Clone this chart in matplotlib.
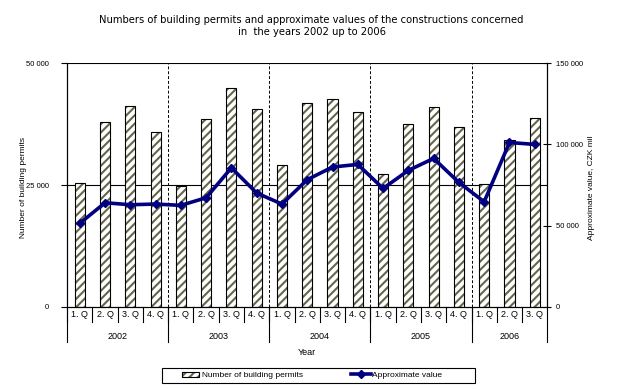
import matplotlib
matplotlib.use('Agg')
import matplotlib.pyplot as plt
from matplotlib.ticker import FuncFormatter
from matplotlib.legend_handler import HandlerTuple
from matplotlib.patches import Rectangle

plt.rcParams['font.family'] = ['Liberation Sans', 'DejaVu Sans']
plt.rcParams['hatch.linewidth'] = 1.5

# data
quarters = ['1. Q', '2. Q', '3. Q', '4. Q'] * 4 + ['1. Q', '2. Q', '3. Q']
years = ['2002', '2003', '2004', '2005', '2006']
year_counts = [4, 4, 4, 4, 3]
permits = [25400, 37950, 41200, 35900,
           24850, 38500, 44900, 40550,
           29100, 41850, 42600, 40000,
           27250, 37500, 41000, 36900,
           25200, 34300, 38750]
values = [51400, 64100, 62900, 63300,
          62500, 67200, 85600, 70100,
          63300, 78300, 86100, 87700,
          72900, 84000, 91400, 76600,
          64700, 101200, 100000]

x = list(range(len(permits)))
olive = '#66664a'
navy = '#000080'

fig = plt.figure(figsize=(6.27, 3.9), dpi=100)
ax = fig.add_axes([0.107, 0.213, 0.766, 0.625])
ax2 = ax.twinx()

# hatch layer in olive, then black outline on top
hatch_bars = ax.bar(x, permits, width=0.40, color='white', edgecolor=olive,
                    linewidth=0, hatch='////', zorder=2)
edge_bars = ax.bar(x, permits, width=0.40, fill=False, edgecolor='black',
                   linewidth=0.8, zorder=2)
line, = ax2.plot(x, values, color=navy, linewidth=2.6, marker='D', markersize=4.5, zorder=3)

ax.set_xlim(-0.5, len(permits) - 0.5)
ax.set_ylim(0, 50000)
ax2.set_ylim(0, 150000)
ax.set_yticks([0, 25000, 50000])
ax2.set_yticks([0, 50000, 100000, 150000])
fmt = FuncFormatter(lambda v, p: f'{int(v):,}'.replace(',', ' '))
ax.yaxis.set_major_formatter(fmt)
ax2.yaxis.set_major_formatter(fmt)
ax.tick_params(axis='y', labelsize=5.5, length=4, width=0.8, direction='out', pad=9)
ax2.tick_params(axis='y', labelsize=5.5, length=6, width=0.8, direction='inout', pad=3)

# gridlines at 25 000 and 50 000
for g in [25000, 50000]:
    ax.axhline(g, color='black', linewidth=0.8, zorder=1)

# dashed year separators inside the plot
start = 0
for c in year_counts[:-1]:
    start += c
    ax.axvline(start - 0.5, color='black', linestyle=(0, (3, 2)), linewidth=0.7, zorder=1)

for a in (ax, ax2):
    a.spines['top'].set_visible(False)
    for s in ['bottom', 'left', 'right']:
        a.spines[s].set_linewidth(0.8)
ax.set_xticks([])

# two level category axis
trans = ax.get_xaxis_transform()
for i, q in enumerate(quarters):
    ax.text(i, -0.033, q, transform=trans, ha='center', va='center', fontsize=6.5)
    ax.plot([i - 0.5, i - 0.5], [0, -0.062], transform=trans, color='black',
            linewidth=0.8, clip_on=False)
ax.plot([len(quarters) - 0.5] * 2, [0, -0.143], transform=trans, color='black',
        linewidth=0.8, clip_on=False)
start = 0
for y, c in zip(years, year_counts):
    ax.text(start + (c - 1) / 2, -0.12, y, transform=trans, ha='center', va='center',
            fontsize=6.5)
    ax.plot([start - 0.5, start - 0.5], [0, -0.143], transform=trans, color='black',
            linewidth=0.8, clip_on=False)
    start += c

ax.text(0.5, -0.185, 'Year', transform=ax.transAxes, ha='center', va='center', fontsize=6.5)
fig.text(0.037, 0.518, 'Number of building permits', rotation=90, ha='center', va='center',
         fontsize=6)
fig.text(0.943, 0.518, 'Approximate value, CZK mil', rotation=90, ha='center', va='center',
         fontsize=6)

fig.text(0.497, 0.949, 'Numbers of building permits and approximate values of the constructions concerned',
         ha='center', va='center', fontsize=7.2, family='DejaVu Sans')
fig.text(0.497, 0.918, 'in  the years 2002 up to 2006', ha='center', va='center',
         fontsize=7.2, family='DejaVu Sans')

# legend: box with two entries centred in each half
fig.add_artist(Rectangle((0.258, 0.018), 0.499, 0.039, transform=fig.transFigure,
                         fill=False, edgecolor='black', linewidth=0.8))
fig.legend([(hatch_bars[0], edge_bars[0])], ['Number of building permits'],
           handler_map={tuple: HandlerTuple(ndivide=1, pad=0)},
           loc='center', bbox_to_anchor=(0.387, 0.0375), frameon=False, fontsize=6,
           handlelength=2.0, handleheight=0.6, handletextpad=0.4, borderpad=0)
fig.legend([line], ['Approximate value'], loc='center', bbox_to_anchor=(0.633, 0.0375),
           frameon=False, fontsize=6, handlelength=2.4, handletextpad=0.1, borderpad=0)

fig.savefig('out.png', dpi=100)
